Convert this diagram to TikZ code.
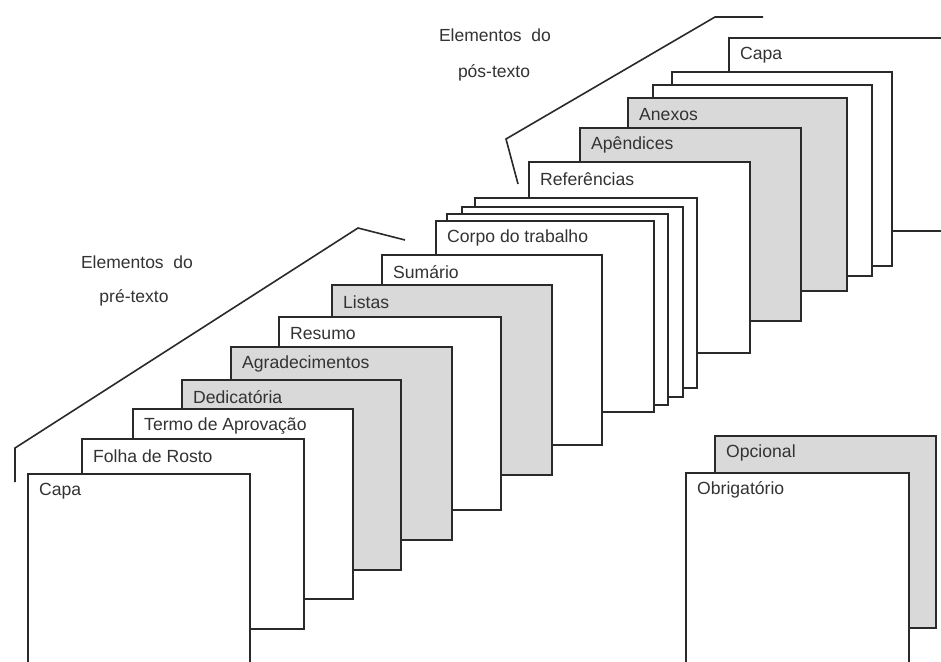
\documentclass[tikz,border=0pt]{standalone}
\usepackage{fontspec}
\setmainfont{Liberation Sans}
\definecolor{optgray}{HTML}{D9D9D9}
\definecolor{inkgray}{HTML}{2A2A2A}
\newcommand\pgbox[7]{% name, style, x, y, w, h, label
  \node[#2, minimum width=#5pt, minimum height=#6pt] (#1) at (#3,#4) {};
  \node[lbl] (#1-l) at ([xshift=11pt,yshift=-17pt]#1.north west) {#7};
}
\newcommand\blankbox[6]{% name, style, x, y, w, h
  \node[#2, minimum width=#5pt, minimum height=#6pt] (#1) at (#3,#4) {};
}
\begin{document}
\begin{tikzpicture}[x=1pt,y=-1pt,
  pg/.style={draw=inkgray, line width=1.8pt, fill=white, anchor=north west, inner sep=0pt, outer sep=0pt},
  opt/.style={pg, fill=optgray},
  lbl/.style={anchor=west, font=\fontsize{17.6}{20}\selectfont, text=black!80, inner sep=0pt},
  hdr/.style={font=\fontsize{17.5}{20}\selectfont, text=black!80, inner sep=0pt},
  brk/.style={draw=inkgray, line width=1.6pt}]
\useasboundingbox (0,0) rectangle (941,661);
\fill[white] (0,0) rectangle (941,661);
\clip (0,0) rectangle (941,661);
% headers
\node[hdr] (pre1) at (137,262) {Elementos\ \ do};
\node[hdr] (pre2) at (134,298) {pré-texto};
\node[hdr] (pos1) at (495,35) {Elementos\ \ do};
\node[hdr] (pos2) at (494,73) {pós-texto};
% brackets
\coordinate (preA) at (15,482);
\coordinate (preB) at (15,448);
\coordinate (preC) at (358,228);
\coordinate (preD) at (405,240);
\draw[brk] (preA) -- (preB) -- (preC) -- (preD);
\coordinate (posA) at (518,184);
\coordinate (posB) at (506,139);
\coordinate (posC) at (715,17);
\coordinate (posD) at (763,17);
\draw[brk] (posA) -- (posB) -- (posC) -- (posD);
% post-text pages (back to front)
\pgbox{postcapa}{pg}{729}{38}{222}{193}{Capa}
\blankbox{postw2}{pg}{672}{72}{220}{194}
\blankbox{postw1}{pg}{653}{85}{219}{191}
\pgbox{anexos}{opt}{628}{98}{219}{193}{Anexos}
\pgbox{apend}{opt}{580}{128}{221}{193}{Apêndices}
\pgbox{refs}{pg}{529}{162}{221}{191}{Referências}
% body pages
\blankbox{txtc}{pg}{475}{198}{222}{190}
\blankbox{txtb}{pg}{462}{207}{221}{190}
\blankbox{txta}{pg}{447}{214}{221}{191}
\pgbox{corpo}{pg}{436}{221}{218}{191}{Corpo do trabalho}
% pre-text pages
\pgbox{sumario}{pg}{382}{255}{220}{190}{Sumário}
\pgbox{listas}{opt}{332}{285}{220}{190}{Listas}
\pgbox{resumo}{pg}{279}{317}{222}{193}{Resumo}
\pgbox{agrad}{opt}{231}{347}{221}{193}{Agradecimentos}
\pgbox{dedic}{opt}{182}{380}{219}{190}{Dedicatória}
\pgbox{termo}{pg}{133}{409}{220}{190}{Termo de Aprovação}
\pgbox{folha}{pg}{82}{439}{222}{190}{Folha de Rosto}
\pgbox{capa}{pg}{28}{474}{222}{191}{Capa}
% legend
\pgbox{opcional}{opt}{715}{436}{221}{192}{Opcional}
\pgbox{obrig}{pg}{686}{473}{223}{191}{Obrigatório}
\end{tikzpicture}
\end{document}
